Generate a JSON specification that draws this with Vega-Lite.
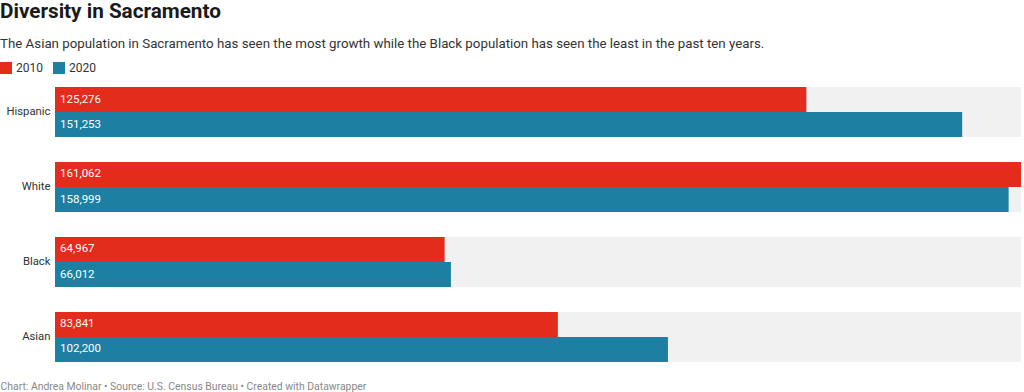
{
  "$schema": "https://vega.github.io/schema/vega-lite/v6.json",
  "width": 966,
  "height": 275,
  "padding": {"left": 0, "top": 1, "right": 0, "bottom": 0},
  "background": "white",
  "title": {
    "text": "Diversity in Sacramento",
    "subtitle": "The Asian population in Sacramento has seen the most growth while the Black population has seen the least in the past ten years.",
    "anchor": "start",
    "frame": "group",
    "dx": -55,
    "font": "Roboto",
    "fontSize": 20.7,
    "fontWeight": "bold",
    "color": "#1a1a1a",
    "subtitleFont": "Roboto",
    "subtitleFontSize": 13.3,
    "subtitleColor": "#333333",
    "subtitlePadding": 14,
    "offset": 11
  },
  "data": {
    "values": [
      {"category": "Hispanic", "year": "2010", "value": 125276},
      {"category": "Hispanic", "year": "2020", "value": 151253},
      {"category": "White", "year": "2010", "value": 161062},
      {"category": "White", "year": "2020", "value": 158999},
      {"category": "Black", "year": "2010", "value": 64967},
      {"category": "Black", "year": "2020", "value": 66012},
      {"category": "Asian", "year": "2010", "value": 83841},
      {"category": "Asian", "year": "2020", "value": 102200}
    ]
  },
  "encoding": {
    "y": {
      "field": "category",
      "type": "nominal",
      "sort": ["Hispanic", "White", "Black", "Asian"],
      "scale": {"paddingInner": 0.3333, "paddingOuter": 0},
      "axis": {
        "title": null,
        "domain": false,
        "ticks": false,
        "labelPadding": 5,
        "labelFont": "Roboto",
        "labelFontSize": 11.3,
        "labelColor": "#333333"
      }
    }
  },
  "layer": [
    {
      "mark": {"type": "bar", "color": "#f1f1f1"},
      "encoding": {
        "x": {
          "datum": 161062,
          "type": "quantitative",
          "scale": {"domain": [0, 161062], "nice": false, "zero": true},
          "axis": {
            "labels": false,
            "ticks": false,
            "domain": false,
            "grid": false,
            "title": "Chart: Andrea Molinar • Source: U.S. Census Bureau • Created with Datawrapper",
            "titleFont": "Roboto",
            "titleFontSize": 10.4,
            "titleFontWeight": "normal",
            "titleColor": "#888888",
            "titleAnchor": "start",
            "titleAlign": "left",
            "titleX": -55,
            "titleY": 24,
            "titleBaseline": "middle"
          }
        }
      }
    },
    {
      "mark": {"type": "bar"},
      "encoding": {
        "x": {"field": "value", "type": "quantitative"},
        "yOffset": {"field": "year", "type": "nominal", "sort": ["2010", "2020"]},
        "color": {
          "field": "year",
          "type": "nominal",
          "scale": {"domain": ["2010", "2020"], "range": ["#e32c1c", "#1d80a3"]},
          "legend": {
            "title": null,
            "orient": "none",
            "legendX": -55,
            "legendY": -25,
            "direction": "horizontal",
            "symbolType": "square",
            "symbolSize": 144,
            "symbolStrokeWidth": 0,
            "symbolOpacity": 1,
            "labelFont": "Roboto",
            "labelFontSize": 12,
            "labelColor": "#333333",
            "labelOffset": 4,
            "columnPadding": 10
          }
        }
      }
    },
    {
      "mark": {"type": "text", "align": "left", "baseline": "middle", "dx": 5, "color": "#ffffff", "font": "Roboto", "fontSize": 11.5},
      "encoding": {
        "x": {"datum": 0, "type": "quantitative"},
        "yOffset": {"field": "year", "type": "nominal", "sort": ["2010", "2020"]},
        "text": {"field": "value", "type": "quantitative", "format": ","}
      }
    }
  ],
  "config": {
    "view": {"stroke": null},
    "font": "Roboto"
  }
}
